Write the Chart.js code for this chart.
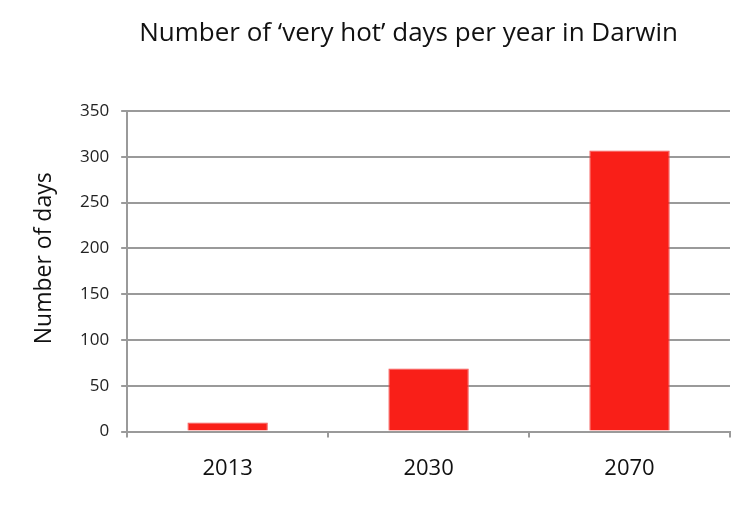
<!DOCTYPE html>
<html>
<head>
<meta charset="utf-8">
<script src="https://cdn.jsdelivr.net/npm/chart.js@4"></script>
<style>
  html, body { margin: 0; padding: 0; background: #fff; }
  #wrap { width: 754px; height: 519px; }
</style>
</head>
<body>
<div id="wrap"><canvas id="hotDaysChart"></canvas></div>
<script>
const years = ['2013', '2030', '2070'];
const veryHotDays = [10, 69, 307];
const yTicks = [0, 50, 100, 150, 200, 250, 300, 350];
const chartTitle = 'Number of ‘very hot’ days per year in Darwin';
const yAxisTitle = 'Number of days';

const gridGrey = '#9a9a9a';
const fontFamily = "'Open Sans', 'DejaVu Sans', sans-serif";

// both titles sit a little off-centre in the original, so draw them by hand
const titlePlugin = {
  id: 'offsetTitles',
  afterDraw(chart) {
    const c = chart.ctx;
    const area = chart.chartArea;
    c.save();
    c.fillStyle = '#111';
    c.textAlign = 'center';
    c.textBaseline = 'middle';
    c.font = '26px ' + fontFamily;
    c.fillText(chartTitle, (area.left + area.right) / 2 - 20, 34);

    c.font = '23px ' + fontFamily;
    c.translate(area.left - 83, (area.top + area.bottom) / 2 - 13);
    c.rotate(-Math.PI / 2);
    c.fillText(yAxisTitle, 0, 0);
    c.restore();
  }
};

const ctx = document.getElementById('hotDaysChart');

new Chart(ctx, {
  type: 'bar',
  data: {
    labels: years,
    datasets: [{
      label: 'Number of days',
      data: veryHotDays,
      backgroundColor: '#f91f18',
      borderColor: '#f45050',
      borderWidth: 1,
      categoryPercentage: 1,
      barPercentage: 0.4
    }]
  },
  plugins: [titlePlugin],
  options: {
    responsive: true,
    maintainAspectRatio: false,
    animation: false,
    layout: { padding: { top: 111, right: 24, bottom: 19, left: 68 } },
    plugins: {
      legend: { display: false },
      tooltip: { enabled: false },
      title: { display: false }
    },
    scales: {
      x: {
        grid: {
          offset: true,
          drawOnChartArea: false,
          drawTicks: true,
          tickLength: 6,
          color: gridGrey,
          lineWidth: 2
        },
        border: { color: gridGrey, width: 2 },
        ticks: {
          color: '#111',
          padding: 18,
          font: { family: fontFamily, size: 22 }
        }
      },
      y: {
        min: 0,
        max: 350,
        afterBuildTicks: axis => { axis.ticks = yTicks.map(v => ({ value: v })); },
        grid: {
          color: gridGrey,
          lineWidth: 2,
          tickLength: 6
        },
        border: { color: gridGrey, width: 2 },
        ticks: {
          color: '#222',
          padding: 12,
          font: { family: fontFamily, size: 17 }
        },
        title: { display: false }
      }
    }
  }
});
</script>
</body>
</html>
